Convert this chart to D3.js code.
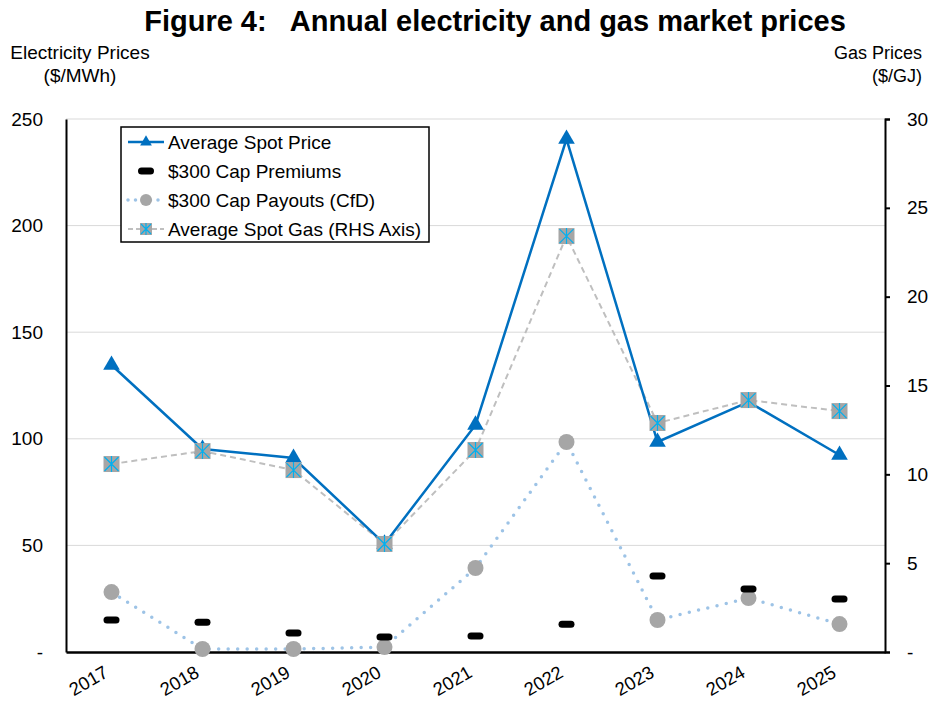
<!DOCTYPE html>
<html>
<head>
<meta charset="utf-8">
<script src="https://cdn.jsdelivr.net/npm/d3@7"></script>
<style>
  body { margin: 0; background: #fff; }
  text { font-family: "Liberation Sans", Arial, sans-serif; }
</style>
</head>
<body>
<script>
var years = ['2017','2018','2019','2020','2021','2022','2023','2024','2025'];
var spotPrice = [134.6, 95.2, 91, 50.7, 106.5, 240.6, 98.5, 117.3, 92.4];
var capPremiums = [15, 14, 8.9, 7, 7.5, 13, 35.6, 29.5, 24.9];
var capPayouts = [28.1, 1.4, 1.4, 2.3, 39.4, 98.5, 15, 25.3, 13.1];
var spotGas = [10.58, 11.31, 10.24, 6.08, 11.37, 23.41, 12.89, 14.18, 13.56];
var leftTicks = [0, 50, 100, 150, 200, 250];
var rightTicks = [0, 5, 10, 15, 20, 25, 30];
var seriesNames = ['Average Spot Price', '$300 Cap Premiums', '$300 Cap Payouts (CfD)', 'Average Spot Gas (RHS Axis)'];

var W = 933, H = 701;
var plotL = 66, plotR = 885, plotT = 119, plotB = 652;
var fs = "19px";

var svg = d3.select("body").append("svg").attr("width", W).attr("height", H);

var x = d3.scaleBand().domain(years).range([plotL, plotR]);
var xc = function(d){ return x(d) + x.bandwidth()/2; };
var y = d3.scaleLinear().domain([0, 250]).range([plotB, plotT]);
var y2 = d3.scaleLinear().domain([0, 30]).range([plotB, plotT]);

// title
svg.append("text")
  .attr("x", 495).attr("y", 31)
  .attr("text-anchor", "middle")
  .attr("font-size", "29px").attr("font-weight", "bold")
  .attr("fill", "#000")
  .attr("xml:space", "preserve")
  .text("Figure 4:   Annual electricity and gas market prices");

// axis titles
svg.append("text").attr("x", 80).attr("y", 59).attr("text-anchor", "middle")
  .attr("font-size", fs).text("Electricity Prices");
svg.append("text").attr("x", 80).attr("y", 82).attr("text-anchor", "middle")
  .attr("font-size", fs).text("($/MWh)");
svg.append("text").attr("x", 922).attr("y", 59).attr("text-anchor", "end")
  .attr("font-size", "18px").text("Gas Prices");
svg.append("text").attr("x", 922).attr("y", 82).attr("text-anchor", "end")
  .attr("font-size", "18px").text("($/GJ)");

// gridlines
svg.append("g").selectAll("line")
  .data(leftTicks.filter(function(d){ return d > 0; }))
  .enter().append("line")
    .attr("x1", plotL).attr("x2", plotR)
    .attr("y1", function(d){ return y(d); })
    .attr("y2", function(d){ return y(d); })
    .attr("stroke", "#d9d9d9").attr("stroke-width", 1);

// left axis
var yAxis = d3.axisLeft(y).tickValues(leftTicks).tickSize(0).tickPadding(23)
  .tickFormat(function(d){ return d === 0 ? "-" : d; });
var gl = svg.append("g").attr("transform", "translate(" + plotL + ",0)").call(yAxis);
gl.select(".domain").attr("stroke", "#000").attr("stroke-width", 2);
gl.selectAll("text").attr("font-size", fs).attr("fill", "#000")
  .style("font-family", "Liberation Sans, Arial, sans-serif");

// right axis
var yAxis2 = d3.axisRight(y2).tickValues(rightTicks).tickSize(5).tickSizeOuter(5).tickPadding(17)
  .tickFormat(function(d){ return d === 0 ? "-" : d; });
var gr = svg.append("g").attr("transform", "translate(" + plotR + ",0)").call(yAxis2);
gr.select(".domain").attr("stroke", "#000").attr("stroke-width", 2);
gr.selectAll(".tick line").attr("stroke", "#000").attr("stroke-width", 2);
gr.selectAll("text").attr("font-size", fs).attr("fill", "#000")
  .style("font-family", "Liberation Sans, Arial, sans-serif");

// bottom axis
var xAxis = d3.axisBottom(x).tickSize(0).tickPadding(0);
var gx = svg.append("g").attr("transform", "translate(0," + plotB + ")").call(xAxis);
gx.select(".domain").attr("stroke", "#000").attr("stroke-width", 2.5);
gx.selectAll("text")
  .attr("font-size", "18.5px").attr("fill", "#000")
  .style("font-family", "Liberation Sans, Arial, sans-serif")
  .attr("text-anchor", "end")
  .attr("y", 0).attr("dy", 0)
  .attr("transform", "translate(-2,24) rotate(-30)");

// gas line (dashed grey)
var gasLine = d3.line().x(function(d,i){ return xc(years[i]); }).y(function(d){ return y2(d); });
svg.append("path").datum(spotGas)
  .attr("d", gasLine).attr("fill", "none")
  .attr("stroke", "#bfbfbf").attr("stroke-width", 2).attr("stroke-dasharray", "6,4");

// spot price line
var spotLine = d3.line().x(function(d,i){ return xc(years[i]); }).y(function(d){ return y(d); });
svg.append("path").datum(spotPrice)
  .attr("d", spotLine).attr("fill", "none")
  .attr("stroke", "#0070c0").attr("stroke-width", 2.5);

svg.append("g").selectAll("path")
  .data(spotPrice)
  .enter().append("path")
    .attr("d", d3.symbol().type(d3.symbolTriangle).size(120))
    .attr("transform", function(d,i){ return "translate(" + xc(years[i]) + "," + y(d) + ")"; })
    .attr("fill", "#0070c0");

// gas markers
function gasMarker(g, cx, cy){
  g.append("rect").attr("x", cx-8).attr("y", cy-8).attr("width", 16).attr("height", 16).attr("fill", "#a6a6a6");
  g.append("path")
    .attr("d", "M" + (cx-7) + "," + (cy-7) + "L" + (cx+7) + "," + (cy+7) +
               "M" + (cx+7) + "," + (cy-7) + "L" + (cx-7) + "," + (cy+7) +
               "M" + cx + "," + (cy-8) + "L" + cx + "," + (cy+8))
    .attr("stroke", "#00b0f0").attr("stroke-width", 1.2).attr("fill", "none");
}
var gasG = svg.append("g");
spotGas.forEach(function(d,i){ gasMarker(gasG, xc(years[i]), y2(d)); });

// payouts dotted line
var payLine = d3.line().x(function(d,i){ return xc(years[i]); }).y(function(d){ return y(d); });
svg.append("path").datum(capPayouts)
  .attr("d", payLine).attr("fill", "none")
  .attr("stroke", "#9dc3e6").attr("stroke-width", 3.5)
  .attr("stroke-linecap", "round").attr("stroke-dasharray", "0,9.5");

svg.append("g").selectAll("circle")
  .data(capPayouts)
  .enter().append("circle")
    .attr("cx", function(d,i){ return xc(years[i]); })
    .attr("cy", function(d){ return y(d); })
    .attr("r", 8).attr("fill", "#a6a6a6");

// premiums
svg.append("g").selectAll("rect")
  .data(capPremiums)
  .enter().append("rect")
    .attr("x", function(d,i){ return xc(years[i]) - 8; })
    .attr("y", function(d){ return y(d) - 3.5; })
    .attr("width", 16).attr("height", 7)
    .attr("rx", 3.5).attr("fill", "#000");

// legend
var lg = svg.append("g");
lg.append("rect").attr("x", 121).attr("y", 127).attr("width", 308).attr("height", 115)
  .attr("fill", "#fff").attr("stroke", "#000").attr("stroke-width", 1.5);
var rowY = [142, 171, 200, 229];
rowY.forEach(function(ry, i){
  lg.append("text").attr("x", 168).attr("y", ry + 7).attr("font-size", fs).attr("fill", "#000").text(seriesNames[i]);
});
lg.append("line").attr("x1", 128).attr("x2", 164).attr("y1", rowY[0]).attr("y2", rowY[0])
  .attr("stroke", "#0070c0").attr("stroke-width", 2.5);
lg.append("path").attr("d", d3.symbol().type(d3.symbolTriangle).size(60))
  .attr("transform", "translate(146," + rowY[0] + ")").attr("fill", "#0070c0");
lg.append("rect").attr("x", 138).attr("y", rowY[1]-3.5).attr("width", 16).attr("height", 7)
  .attr("rx", 3.5).attr("fill", "#000");
lg.append("line").attr("x1", 128).attr("x2", 164).attr("y1", rowY[2]).attr("y2", rowY[2])
  .attr("stroke", "#9dc3e6").attr("stroke-width", 3.5).attr("stroke-linecap", "round").attr("stroke-dasharray", "0,7.5");
lg.append("circle").attr("cx", 146).attr("cy", rowY[2]).attr("r", 6).attr("fill", "#a6a6a6");
lg.append("line").attr("x1", 128).attr("x2", 164).attr("y1", rowY[3]).attr("y2", rowY[3])
  .attr("stroke", "#bfbfbf").attr("stroke-width", 2).attr("stroke-dasharray", "5,3");
var lgm = lg.append("g");
lgm.append("rect").attr("x", 140).attr("y", rowY[3]-6).attr("width", 12).attr("height", 12).attr("fill", "#a6a6a6");
lgm.append("path")
  .attr("d", "M141," + (rowY[3]-5) + "L151," + (rowY[3]+5) + "M151," + (rowY[3]-5) + "L141," + (rowY[3]+5) +
             "M146," + (rowY[3]-6) + "L146," + (rowY[3]+6))
  .attr("stroke", "#00b0f0").attr("stroke-width", 1.2);
</script>
</body>
</html>
